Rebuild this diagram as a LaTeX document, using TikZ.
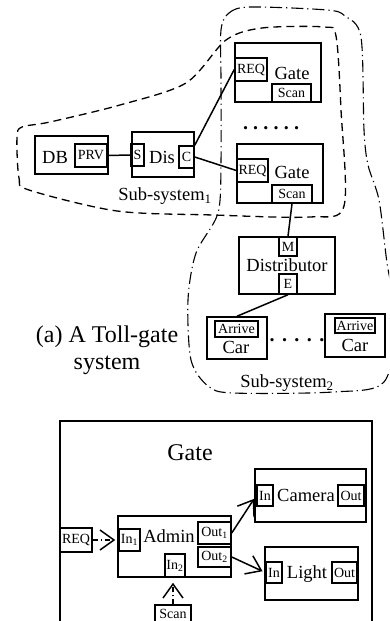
\documentclass[tikz,border=0pt]{standalone}
\usepackage{fontspec}
\setmainfont{Liberation Serif}
\usetikzlibrary{arrows.meta}

\begin{document}
\begin{tikzpicture}[
        x={(1pt,0pt)},
        y={(0pt,-1pt)},
        line width=1.5pt,
        box/.style={draw, inner sep=0pt},
        port/.style={draw, inner sep=0pt, font=\fontsize{14}{15}\selectfont},
        lbl/.style={inner sep=0pt, font=\fontsize{18.5}{20}\selectfont},
        sub1/.style={line width=1.3pt, dash pattern=on 8pt off 5pt},
        sub2/.style={line width=1.1pt, dash pattern=on 12pt off 4pt on 1.2pt off 4pt},
        flow/.style={-{Straight Barb[length=14pt,width=20pt]}},
        cue/.style={flow, dash pattern=on 5pt off 3pt on 1pt off 3pt}
    ]
    \useasboundingbox (0,0) rectangle (389,621);
    \clip (0,0) rectangle (389,621);

    % sub-systems
    \draw[sub1] plot[smooth cycle, tension=0.5] coordinates {
        (17,137) (19,178) (29,190) (117,211) (213,215) (310,217) (344,206)
        (341,110) (336,36) (324,27) (262,28) (226,40) (186,83) (120,105)
        (50,122) (22,127)};
    \draw[sub2] plot[smooth cycle, tension=0.5] coordinates {
        (221,30) (229,13) (250,7) (327,10) (345,16) (361,37) (364,130)
        (368,165) (379,200) (387,263) (396,320) (384,382) (333,392)
        (233,393) (208,386) (191,360) (188,300) (196,253) (218,213)
        (221,160) (221,80)};

    % top part
    \node[box, minimum width=86pt, minimum height=59pt] (gateA) at (278,72.5) {};
    \node[port, minimum width=32pt, minimum height=23pt] (reqA) at (251,69.5) {REQ};
    \node[port, minimum width=39pt, minimum height=18pt] (scanA) at (291.5,93) {Scan};
    \node[lbl] (gateAtxt) at (292,73) {Gate};
    \node[lbl, font=\fontsize{20}{20}\bfseries] (dotsA) at (271,128) {.\hspace{5.2pt}.\hspace{5.2pt}.\hspace{5.2pt}.\hspace{5.2pt}.\hspace{5.2pt}.};

    \node[box, minimum width=86pt, minimum height=59pt] (gateB) at (280,173.5) {};
    \node[port, minimum width=31pt, minimum height=23pt] (reqB) at (252.5,170.5) {REQ};
    \node[port, minimum width=40pt, minimum height=18pt] (scanB) at (292,194) {Scan};
    \node[lbl] (gateBtxt) at (292,172) {Gate};

    \node[box, minimum width=73pt, minimum height=38pt] (db) at (71.5,155) {};
    \node[port, minimum width=32pt, minimum height=23pt] (prv) at (91,155.5) {PRV};
    \node[lbl] (dbtxt) at (55,157) {DB};

    \node[box, minimum width=62pt, minimum height=45pt] (dis) at (163,154.5) {};
    \node[port, minimum width=13pt, minimum height=22pt] (sport) at (137.5,155) {S};
    \node[port, minimum width=15pt, minimum height=22pt] (cport) at (186.5,157) {C};
    \node[lbl] (distxt) at (162,157) {Dis};

    \node[lbl] (subA) at (165,196) {Sub-system\textsubscript{1}};

    \node[box, minimum width=96pt, minimum height=57pt] (distr) at (287,265.5) {};
    \node[port, minimum width=18pt, minimum height=19pt] (mport) at (288,246.5) {M};
    \node[port, minimum width=18pt, minimum height=20pt] (eport) at (288,284) {E};
    \node[lbl] (distrtxt) at (287,265) {Distributor};

    \node[box, minimum width=60pt, minimum height=42pt] (carA) at (237,338) {};
    \node[port, minimum width=43pt, minimum height=16pt] (arrA) at (236.5,329) {Arrive};
    \node[lbl] (carAtxt) at (236,347) {Car};
    \node[box, minimum width=60pt, minimum height=43pt] (carB) at (355,335.5) {};
    \node[port, minimum width=40pt, minimum height=15pt] (arrB) at (355,325.5) {Arrive};
    \node[lbl] (carBtxt) at (355,345) {Car};
    \node[lbl, font=\fontsize{20}{20}\bfseries] (dotsB) at (297,340) {.\hspace{7.4pt}.\hspace{7.4pt}.\hspace{7.4pt}.\hspace{7.4pt}.};

    \node[lbl] (subB) at (287,383) {Sub-system\textsubscript{2}};
    \node[lbl, font=\fontsize{24}{27}\selectfont, align=center] (caption) at (107,350)
        {(a) A Toll-gate\\system};

    \draw (prv.east) -- (sport.west);
    \draw (cport.north east) -- (reqA.west);
    \draw (cport.east) -- (reqB.west);
    \draw (scanB.south) -- (mport.north);
    \draw (eport.south) -- (carA.north);

    % gate detail
    \draw (60,640) -- (60,421) -- (372,421) -- (372,640);
    \node[lbl, font=\fontsize{24}{26}\selectfont] (gatetitle) at (190,453) {Gate};

    \node[box, minimum width=111pt, minimum height=53pt] (camera) at (310.5,495.5) {};
    \node[port, minimum width=16pt, minimum height=21pt] (camin) at (265,495.5) {In};
    \node[port, minimum width=26pt, minimum height=21pt] (camout) at (351,495.5) {Out};
    \node[lbl] (cameratxt) at (306,495) {Camera};

    \node[box, minimum width=93pt, minimum height=53pt] (light) at (311.5,573.5) {};
    \node[port, minimum width=16pt, minimum height=21pt] (lightin) at (274,572.5) {In};
    \node[port, minimum width=25pt, minimum height=21pt] (lightout) at (344.5,572.5) {Out};
    \node[lbl] (lighttxt) at (307,574) {Light};

    \node[box, minimum width=113pt, minimum height=61pt] (admin) at (174.5,546.5) {};
    \node[port, minimum width=21pt, minimum height=22pt] (inA) at (129.5,540) {In\textsubscript{1}};
    \node[port, minimum width=20pt, minimum height=23pt] (inB) at (175,565.5) {In\textsubscript{2}};
    \node[port, minimum width=33pt, minimum height=22pt] (outA) at (214.5,533) {Out\textsubscript{1}};
    \node[port, minimum width=33pt, minimum height=20pt] (outB) at (214.5,557) {Out\textsubscript{2}};
    \node[lbl] (admintxt) at (169,536) {Admin};

    \node[port, minimum width=32pt, minimum height=24pt] (req) at (76,540) {REQ};
    \node[port, minimum width=36pt, minimum height=18pt] (scan) at (173,614) {Scan};

    \draw[cue, shorten >=3pt] (req.east) -- (inA.west);
    \draw[cue, shorten >=5pt] (scan.north) -- (scan.north |- admin.south);
    \draw[flow, shorten >=4pt] (outA.east) -- (camin.west);
    \draw[flow, shorten >=3pt] (outB.east) -- (lightin.west);
\end{tikzpicture}
\end{document}
